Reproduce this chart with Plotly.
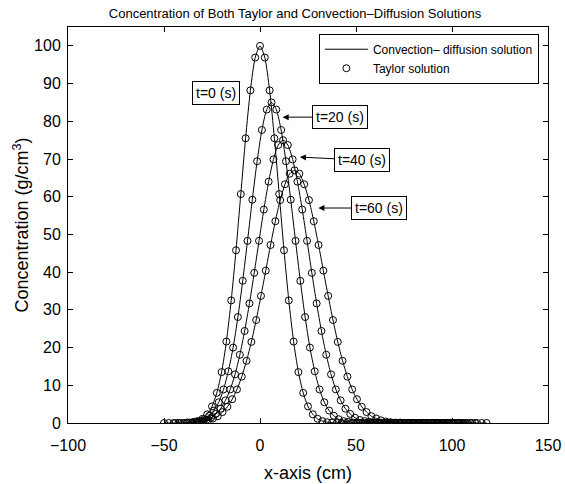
import plotly.graph_objects as go

# ---- data ----
TIMES = [0, 20, 40, 60]                 # s
CENTERS = [0, 6, 12, 18]                # peak position (cm) of each profile
OFFSETS = [-50, -47.5, -45, -42.5, -40, -37.5, -35, -32.5, -30, -27.5, -25, -22.5,
           -20, -17.5, -15, -12.5, -10, -7.5, -5, -2.5, 0, 2.5, 5, 7.5, 10, 12.5,
           15, 17.5, 20, 22.5, 25, 27.5, 30, 32.5, 35, 37.5, 40, 42.5, 45, 47.5,
           50, 52.5, 55, 57.5, 60, 62.5, 65, 67.5, 70, 72.5, 75, 77.5, 80, 82.5,
           85, 87.5, 90, 92.5, 95, 97.5, 100]

C_T0 = [0, 0, 0, 0, 0, 0.1, 0.2, 0.5, 1.1, 2.3, 4.4, 8.0, 13.5, 21.6, 32.5, 45.8,
        60.7, 75.5, 88.2, 96.9, 100.0, 96.9, 88.2, 75.5, 60.7, 45.8, 32.5, 21.6,
        13.5, 8.0, 4.4, 2.3, 1.1, 0.5, 0.2, 0.1,
        0, 0, 0, 0, 0, 0, 0, 0, 0, 0, 0, 0, 0, 0, 0, 0, 0, 0, 0, 0, 0, 0, 0, 0, 0]
C_T20 = [0, 0, 0, 0.1, 0.3, 0.5, 1.0, 1.9, 3.3, 5.5, 8.9, 13.7, 20.0, 28.1, 37.7,
         48.3, 59.2, 69.4, 77.7, 83.1, 85.0, 83.1, 77.7, 69.4, 59.2, 48.3, 37.7,
         28.1, 20.0, 13.7, 8.9, 5.5, 3.3, 1.9, 1.0, 0.5, 0.3, 0.1,
         0, 0, 0, 0, 0, 0, 0, 0, 0, 0, 0, 0, 0, 0, 0, 0, 0, 0, 0, 0, 0, 0, 0]
C_T40 = [0.1, 0.1, 0.3, 0.5, 0.8, 1.4, 2.4, 3.8, 6.0, 8.9, 12.9, 18.1, 24.4, 31.7,
         39.8, 48.3, 56.6, 64.0, 69.9, 73.7, 75.0, 73.7, 69.9, 64.0, 56.6, 48.3,
         39.8, 31.7, 24.4, 18.1, 12.9, 8.9, 6.0, 3.8, 2.4, 1.4, 0.8, 0.5, 0.3,
         0.1, 0.1,
         0, 0, 0, 0, 0, 0, 0, 0, 0, 0, 0, 0, 0, 0, 0, 0, 0, 0, 0, 0]
C_T60 = [0.2, 0.4, 0.7, 1.2, 1.8, 2.9, 4.3, 6.3, 8.9, 12.3, 16.5, 21.5, 27.3, 33.7,
         40.4, 47.2, 53.5, 59.1, 63.3, 66.1, 67.0, 66.1, 63.3, 59.1, 53.5, 47.2,
         40.4, 33.7, 27.3, 21.5, 16.5, 12.3, 8.9, 6.3, 4.3, 2.9, 1.8, 1.2, 0.7,
         0.4, 0.2, 0.1, 0.1,
         0, 0, 0, 0, 0, 0, 0, 0, 0, 0, 0, 0, 0, 0, 0, 0, 0, 0]

X_TICKS = [-100, -50, 0, 50, 100, 150]
Y_TICKS = [0, 10, 20, 30, 40, 50, 60, 70, 80, 90, 100]

LABEL_LINE = "Convection\u2013 diffusion solution"
LABEL_MARK = "Taylor solution"
TITLE = "Concentration of Both Taylor and Convection\u2013Diffusion Solutions"

# annotation anchor points (data coords)
ANN_TEXT = ["t=0 (s)", "t=20 (s)", "t=40 (s)", "t=60 (s)"]
ANN_X = [-22.9, 11.8, 20.8, 30.4]
ANN_Y = [87.5, 81.1, 70.5, 57.0]

SERIES = [C_T0, C_T20, C_T40, C_T60]
for s in SERIES:
    assert len(s) == len(OFFSETS)

FONT = "Liberation Sans, Arial, Helvetica, sans-serif"

fig = go.Figure()
for i, (c, vals) in enumerate(zip(CENTERS, SERIES)):
    xs = [c + o for o in OFFSETS]
    fig.add_trace(go.Scatter(
        x=xs, y=vals, mode="lines",
        line=dict(color="black", width=1, shape="spline", smoothing=0.7),
        name=LABEL_LINE, legendgroup="line", showlegend=(i == 0)))
for i, (c, vals) in enumerate(zip(CENTERS, SERIES)):
    xs = [c + o for o in OFFSETS]
    fig.add_trace(go.Scatter(
        x=xs, y=vals, mode="markers",
        marker=dict(symbol="circle-open", size=7, color="black", line=dict(width=1)),
        name=LABEL_MARK, legendgroup="mark", showlegend=(i == 0)))

annotations = []
offsets_px = [None, (57, 0), (62, 3), (61, 0)]
for i, (t, x, y) in enumerate(zip(ANN_TEXT, ANN_X, ANN_Y)):
    a = dict(x=x, y=y, xref="x", yref="y", text=t,
             font=dict(family=FONT, size=14, color="black"),
             bordercolor="black", borderwidth=1, borderpad=3, bgcolor="white")
    if offsets_px[i] is None:
        a["showarrow"] = False
    else:
        a.update(showarrow=True, ax=offsets_px[i][0], ay=offsets_px[i][1],
                 arrowhead=2, arrowsize=1.2, arrowwidth=1, arrowcolor="black",
                 standoff=0)
    annotations.append(a)

axis_common = dict(showline=True, linecolor="black", linewidth=1, mirror="ticks",
                   ticks="inside", ticklen=5, tickcolor="black", tickwidth=1,
                   showgrid=False, zeroline=False, automargin=False,
                   tickfont=dict(family=FONT, size=16, color="black"))

fig.update_layout(
    width=565, height=484,
    margin=dict(l=68, r=17, t=27, b=61),
    paper_bgcolor="white", plot_bgcolor="white",
    font=dict(family=FONT, color="black"),
    title=dict(text=TITLE, x=295 / 565, xanchor="center", y=0.972, yanchor="middle",
               font=dict(family=FONT, size=13, color="black")),
    xaxis=dict(range=[-100, 150], tickvals=X_TICKS, ticklabelstandoff=8,
               title=dict(text="x-axis (cm)", font=dict(family=FONT, size=18), standoff=13),
               **axis_common),
    yaxis=dict(range=[0, 105], tickvals=Y_TICKS, ticklabelstandoff=3,
               title=dict(text="Concentration (g/cm<sup>3</sup>)",
                          font=dict(family=FONT, size=18), standoff=0),
               **axis_common),
    legend=dict(x=0.981, y=0.983, xanchor="right", yanchor="top",
                bordercolor="black", borderwidth=1, bgcolor="white",
                font=dict(family=FONT, size=12, color="black"),
                tracegroupgap=0, itemwidth=43),
    annotations=annotations,
    showlegend=True,
)

fig.write_html("out.html", config={"displayModeBar": False},
               post_script="document.body.style.margin='0px';")
